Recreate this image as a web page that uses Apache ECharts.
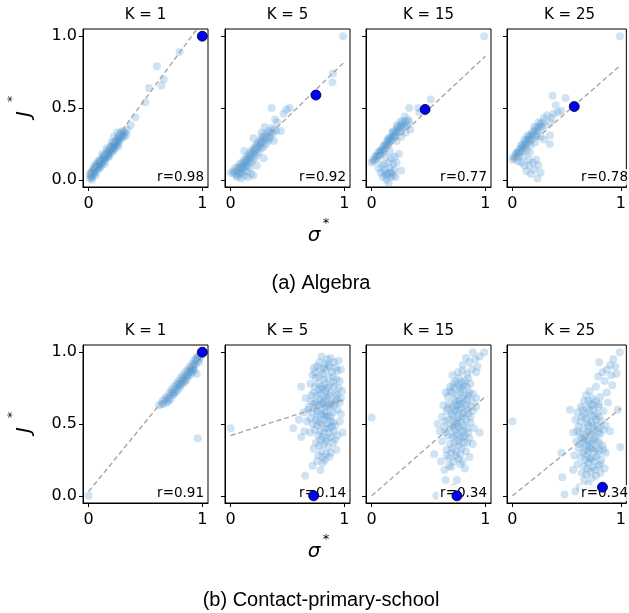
<!DOCTYPE html>
<html><head><meta charset="utf-8">
<script src="https://cdn.jsdelivr.net/npm/echarts@6/dist/echarts.min.js"></script>
<style>html,body{margin:0;padding:0;background:#fff}#c{width:629px;height:613px}</style>
</head><body><div id="c"></div>
<script>
// ---------- labels ----------
const panelTitles = ['K = 1', 'K = 5', 'K = 15', 'K = 25'];
const captions = ['(a) Algebra', '(b) Contact-primary-school'];
const xTicks = [0, 1];
const yTicks = [0, 0.5, 1];
const rAlgebra = [0.98, 0.92, 0.77, 0.78];
const rContact = [0.91, 0.14, 0.34, 0.34];

// ---------- highlighted point per panel ----------
const hlAlgebra = [[1.0, 1.0], [0.75, 0.59], [0.47, 0.49], [0.57, 0.51]];
const hlContact = [[1.0, 1.0], [0.73, 0.0], [0.75, 0.0], [0.83, 0.06]];

// ---------- fitted line values at x=0 and x=1 ----------
const fitAlgebraAt0 = [0.03, 0.05, 0.12, 0.14];
const fitAlgebraAt1 = [1.10, 0.82, 0.86, 0.80];
const fitContactAt0 = [0.03, 0.42, 0.0, 0.0];
const fitContactAt1 = [1.0, 0.67, 0.69, 0.61];

// ---------- scatter points (sigma*, J*) ----------
const algebraK1 = [[0.01,0.01],[0.02,0.03],[0.02,0.05],[0.03,0.02],[0.03,0.06],[0.04,0.04],[0.04,0.08],[0.05,0.05],[0.05,0.07],[0.06,0.09],[0.06,0.05],[0.07,0.08],[0.07,0.11],[0.08,0.07],[0.08,0.10],[0.09,0.12],[0.09,0.09],[0.10,0.11],[0.10,0.14],[0.11,0.10],[0.11,0.13],[0.12,0.15],[0.12,0.12],[0.13,0.14],[0.13,0.17],[0.14,0.13],[0.14,0.16],[0.15,0.18],[0.15,0.15],[0.16,0.17],[0.16,0.20],[0.17,0.16],[0.17,0.19],[0.18,0.21],[0.18,0.18],[0.19,0.20],[0.19,0.23],[0.20,0.19],[0.20,0.22],[0.21,0.24],[0.21,0.21],[0.22,0.23],[0.22,0.26],[0.23,0.22],[0.23,0.25],[0.24,0.27],[0.24,0.24],[0.25,0.26],[0.25,0.29],[0.26,0.25],[0.26,0.28],[0.27,0.31],[0.27,0.27],[0.28,0.30],[0.28,0.33],[0.29,0.29],[0.30,0.31],[0.30,0.34],[0.31,0.30],[0.32,0.33],[0.33,0.31],[0.34,0.35],[0.25,0.33],[0.22,0.30],[0.03,0.00],[0.06,0.03],[0.10,0.08],[0.14,0.11],[0.18,0.16],[0.22,0.20],[0.26,0.23],[0.05,0.10],[0.08,0.13],[0.12,0.18],[0.16,0.22],[0.20,0.26],[0.37,0.38],[0.41,0.435],[0.50,0.54],[0.53,0.64],[0.64,0.655],[0.66,0.70],[0.60,0.79],[0.80,0.89],[0.04,0.06],[0.07,0.09],[0.11,0.12],[0.15,0.16],[0.19,0.21],[0.23,0.24],[0.27,0.29],[0.29,0.32],[0.31,0.33],[0.13,0.15],[0.17,0.18],[0.21,0.22],[0.25,0.27],[0.09,0.10],[0.02,0.02],[0.01,0.04]];
const algebraK5 = [[0.00,0.05],[0.02,0.06],[0.03,0.04],[0.04,0.08],[0.05,0.06],[0.06,0.09],[0.07,0.07],[0.08,0.11],[0.08,0.05],[0.09,0.09],[0.10,0.12],[0.10,0.08],[0.11,0.10],[0.12,0.14],[0.12,0.11],[0.13,0.13],[0.14,0.16],[0.14,0.12],[0.15,0.15],[0.16,0.18],[0.16,0.14],[0.17,0.17],[0.18,0.20],[0.18,0.16],[0.19,0.19],[0.20,0.22],[0.20,0.18],[0.21,0.21],[0.22,0.24],[0.22,0.20],[0.23,0.23],[0.24,0.26],[0.24,0.22],[0.25,0.25],[0.26,0.28],[0.26,0.24],[0.27,0.27],[0.28,0.30],[0.28,0.26],[0.29,0.29],[0.30,0.32],[0.31,0.28],[0.32,0.31],[0.33,0.34],[0.34,0.30],[0.35,0.33],[0.36,0.36],[0.37,0.32],[0.38,0.35],[0.40,0.34],[0.38,0.27],[0.29,0.15],[0.23,0.10],[0.12,0.20],[0.20,0.29],[0.27,0.33],[0.30,0.37],[0.39,0.42],[0.41,0.40],[0.44,0.34],[0.465,0.46],[0.36,0.50],[0.49,0.49],[0.52,0.50],[0.06,0.02],[0.09,0.01],[0.12,0.03],[0.15,0.02],[0.18,0.04],[0.20,0.03],[0.14,0.06],[0.17,0.08],[0.10,0.05],[0.05,0.03],[0.90,0.74],[0.895,0.68],[0.99,1.0],[0.07,0.04],[0.11,0.07],[0.15,0.10],[0.19,0.13],[0.23,0.17],[0.27,0.22],[0.31,0.25],[0.35,0.29],[0.13,0.09],[0.17,0.12],[0.21,0.15],[0.25,0.19],[0.29,0.23],[0.33,0.27]];
const algebraK15 = [[0.00,0.12],[0.01,0.14],[0.02,0.13],[0.03,0.16],[0.04,0.14],[0.05,0.17],[0.05,0.15],[0.06,0.19],[0.07,0.17],[0.08,0.20],[0.08,0.18],[0.09,0.21],[0.10,0.19],[0.10,0.23],[0.11,0.21],[0.12,0.24],[0.12,0.22],[0.13,0.26],[0.14,0.24],[0.15,0.27],[0.15,0.25],[0.16,0.29],[0.17,0.27],[0.18,0.30],[0.18,0.28],[0.19,0.32],[0.20,0.30],[0.21,0.33],[0.21,0.31],[0.22,0.35],[0.23,0.33],[0.24,0.36],[0.25,0.34],[0.26,0.38],[0.27,0.36],[0.28,0.39],[0.29,0.37],[0.30,0.41],[0.31,0.38],[0.32,0.42],[0.33,0.40],[0.25,0.40],[0.22,0.38],[0.18,0.33],[0.14,0.28],[0.29,0.44],[0.33,0.50],[0.41,0.50],[0.42,0.47],[0.52,0.56],[0.34,0.35],[0.30,0.33],[0.26,0.30],[0.22,0.27],[0.16,0.20],[0.12,0.16],[0.06,0.08],[0.08,0.05],[0.10,0.02],[0.12,0.07],[0.13,0.00],[0.14,0.04],[0.15,-0.02],[0.16,0.08],[0.17,0.02],[0.18,0.05],[0.19,0.11],[0.20,0.07],[0.21,0.02],[0.22,0.12],[0.26,0.065],[0.11,0.11],[0.15,0.12],[0.17,0.15],[0.09,0.10],[0.24,0.18],[0.20,0.16],[0.99,1.0],[0.04,0.17],[0.07,0.20],[0.11,0.24],[0.15,0.29],[0.19,0.34],[0.23,0.37],[0.27,0.41],[0.13,0.03],[0.16,0.05],[0.19,0.03],[0.11,0.05]];
const algebraK25 = [[0.00,0.14],[0.01,0.16],[0.02,0.15],[0.03,0.18],[0.04,0.16],[0.05,0.19],[0.06,0.17],[0.06,0.21],[0.07,0.19],[0.08,0.22],[0.09,0.20],[0.09,0.24],[0.10,0.22],[0.11,0.25],[0.12,0.23],[0.12,0.27],[0.13,0.25],[0.14,0.28],[0.15,0.26],[0.15,0.30],[0.16,0.28],[0.17,0.31],[0.18,0.29],[0.18,0.33],[0.19,0.31],[0.20,0.34],[0.21,0.32],[0.22,0.36],[0.23,0.34],[0.24,0.37],[0.25,0.35],[0.26,0.39],[0.27,0.37],[0.28,0.40],[0.29,0.43],[0.30,0.38],[0.36,0.43],[0.37,0.585],[0.49,0.57],[0.40,0.52],[0.45,0.48],[0.345,0.31],[0.345,0.25],[0.29,0.28],[0.32,0.45],[0.42,0.47],[0.35,0.40],[0.38,0.46],[0.22,0.30],[0.17,0.24],[0.13,0.20],[0.05,0.13],[0.11,0.10],[0.155,0.10],[0.23,0.01],[0.24,0.10],[0.26,0.05],[0.13,0.06],[0.17,0.04],[0.20,0.07],[0.19,0.12],[0.22,0.14],[0.08,0.12],[0.15,0.14],[0.99,1.0],[0.04,0.19],[0.08,0.24],[0.11,0.28],[0.14,0.31],[0.20,0.37],[0.24,0.40],[0.10,0.16],[0.16,0.19],[0.21,0.26],[0.26,0.30]];

const contactK1 = [[0.62,0.63],[0.65,0.66],[0.66,0.64],[0.68,0.69],[0.70,0.68],[0.71,0.72],[0.72,0.70],[0.73,0.74],[0.74,0.72],[0.75,0.76],[0.76,0.74],[0.77,0.78],[0.78,0.76],[0.79,0.80],[0.80,0.78],[0.81,0.82],[0.82,0.80],[0.83,0.84],[0.84,0.82],[0.85,0.86],[0.86,0.84],[0.87,0.88],[0.88,0.86],[0.89,0.90],[0.90,0.88],[0.91,0.92],[0.92,0.90],[0.93,0.94],[0.94,0.92],[0.95,0.96],[0.96,0.94],[0.97,0.97],[0.98,0.96],[0.75,0.71],[0.80,0.75],[0.85,0.80],[0.90,0.85],[0.93,0.87],[0.70,0.66],[0.82,0.78],[0.87,0.84],[0.92,0.88],[0.78,0.73],[0.95,0.85],[0.96,0.40],[0.00,0.00],[0.72,0.67],[0.88,0.83],[0.97,0.93],[0.84,0.79],[0.76,0.72],[0.94,0.95],[0.91,0.86],[0.86,0.81],[0.81,0.77],[0.74,0.70],[0.69,0.65],[0.64,0.64],[0.67,0.67],[0.83,0.81],[0.89,0.87],[0.93,0.91],[0.79,0.77],[0.96,0.97],[0.91,0.89]];
const contactK5 = [[0.80,0.97],[0.85,0.95],[0.88,0.96],[0.91,0.93],[0.95,0.94],[0.83,0.92],[0.87,0.90],[0.92,0.89],[0.76,0.90],[0.73,0.89],[0.79,0.88],[0.84,0.87],[0.89,0.86],[0.94,0.87],[0.81,0.85],[0.97,0.88],[0.72,0.84],[0.75,0.82],[0.78,0.83],[0.82,0.81],[0.86,0.82],[0.90,0.83],[0.93,0.81],[0.96,0.80],[0.62,0.76],[0.70,0.78],[0.74,0.76],[0.77,0.78],[0.80,0.76],[0.83,0.78],[0.87,0.77],[0.91,0.76],[0.95,0.75],[0.73,0.72],[0.79,0.71],[0.84,0.73],[0.88,0.72],[0.92,0.71],[0.98,0.73],[0.76,0.70],[0.81,0.74],[0.86,0.70],[0.66,0.68],[0.71,0.66],[0.75,0.65],[0.78,0.67],[0.82,0.66],[0.85,0.68],[0.89,0.66],[0.93,0.67],[0.96,0.65],[0.69,0.62],[0.74,0.61],[0.77,0.63],[0.80,0.60],[0.84,0.62],[0.87,0.61],[0.91,0.63],[0.94,0.60],[0.72,0.58],[0.79,0.57],[0.83,0.58],[0.86,0.56],[0.90,0.58],[0.97,0.57],[0.64,0.58],[0.76,0.55],[0.81,0.64],[0.88,0.64],[0.55,0.47],[0.62,0.41],[0.67,0.52],[0.72,0.50],[0.75,0.53],[0.78,0.51],[0.82,0.53],[0.85,0.50],[0.88,0.52],[0.92,0.49],[0.96,0.52],[0.74,0.46],[0.79,0.45],[0.83,0.47],[0.87,0.44],[0.91,0.45],[0.985,0.44],[0.70,0.44],[0.77,0.42],[0.81,0.41],[0.85,0.40],[0.94,0.42],[0.89,0.48],[0.75,0.37],[0.78,0.35],[0.82,0.36],[0.86,0.34],[0.90,0.37],[0.80,0.31],[0.84,0.29],[0.88,0.30],[0.77,0.28],[0.83,0.25],[0.93,0.32],[0.73,0.33],[0.72,0.21],[0.79,0.18],[0.655,0.14],[0.81,0.23],[0.76,0.24],[0.0,0.47],[0.78,0.93],[0.86,0.91],[0.82,0.89],[0.74,0.86],[0.90,0.79],[0.85,0.75],[0.78,0.74],[0.71,0.70],[0.83,0.69],[0.94,0.70],[0.80,0.65],[0.86,0.63],[0.73,0.64],[0.92,0.65],[0.76,0.59],[0.82,0.56],[0.88,0.55],[0.84,0.55],[0.70,0.54],[0.80,0.50],[0.86,0.47],[0.90,0.51],[0.76,0.49],[0.82,0.44],[0.88,0.41],[0.79,0.39],[0.84,0.38],[0.92,0.39],[0.87,0.27],[0.81,0.27],[0.68,0.60],[0.97,0.68],[0.60,0.53],[0.65,0.45]];
const contactK15 = [[0.99,1.0],[0.89,1.0],[0.83,0.96],[0.93,0.90],[0.86,0.93],[0.95,0.97],[0.91,0.95],[0.88,0.88],[0.71,0.84],[0.80,0.87],[0.84,0.85],[0.77,0.82],[0.92,0.86],[0.74,0.80],[0.79,0.79],[0.82,0.80],[0.69,0.76],[0.73,0.75],[0.76,0.77],[0.80,0.74],[0.84,0.76],[0.87,0.78],[0.71,0.72],[0.75,0.70],[0.78,0.72],[0.82,0.70],[0.86,0.72],[0.89,0.71],[0.67,0.69],[0.73,0.67],[0.77,0.66],[0.80,0.68],[0.84,0.67],[0.92,0.68],[0.65,0.72],[0.63,0.63],[0.68,0.64],[0.71,0.62],[0.75,0.63],[0.79,0.61],[0.83,0.63],[0.87,0.62],[0.92,0.62],[0.66,0.59],[0.70,0.57],[0.74,0.59],[0.77,0.56],[0.81,0.58],[0.85,0.57],[0.89,0.59],[0.58,0.50],[0.62,0.55],[0.68,0.53],[0.72,0.52],[0.76,0.54],[0.79,0.51],[0.83,0.53],[0.87,0.51],[0.73,0.60],[0.78,0.64],[0.64,0.48],[0.69,0.47],[0.73,0.46],[0.76,0.48],[0.80,0.45],[0.84,0.47],[0.95,0.44],[0.67,0.42],[0.71,0.41],[0.75,0.43],[0.78,0.40],[0.82,0.42],[0.86,0.40],[0.62,0.38],[0.69,0.36],[0.73,0.37],[0.77,0.35],[0.81,0.37],[0.89,0.36],[0.74,0.50],[0.55,0.29],[0.66,0.32],[0.70,0.30],[0.74,0.31],[0.78,0.29],[0.83,0.31],[0.68,0.26],[0.72,0.24],[0.76,0.26],[0.80,0.24],[0.64,0.18],[0.70,0.20],[0.82,0.19],[0.86,0.27],[0.65,0.11],[0.75,0.11],[0.57,0.0],[0.72,0.06],[0.79,0.03],[0.0,0.545],[0.80,0.91],[0.76,0.86],[0.85,0.82],[0.72,0.78],[0.81,0.77],[0.78,0.75],[0.69,0.73],[0.85,0.70],[0.74,0.65],[0.81,0.65],[0.88,0.66],[0.67,0.61],[0.77,0.60],[0.84,0.60],[0.71,0.56],[0.80,0.55],[0.87,0.55],[0.65,0.52],[0.75,0.51],[0.81,0.49],[0.71,0.48],[0.78,0.46],[0.85,0.44],[0.65,0.44],[0.73,0.42],[0.80,0.41],[0.76,0.38],[0.84,0.37],[0.71,0.33],[0.79,0.33],[0.74,0.28],[0.66,0.28],[0.78,0.22],[0.68,0.21],[0.61,0.24],[0.90,0.47],[0.60,0.45]];
const contactK25 = [[0.99,1.0],[0.93,0.95],[0.80,0.93],[0.87,0.88],[0.90,0.91],[0.79,0.83],[0.85,0.80],[0.77,0.76],[0.92,0.77],[0.71,0.73],[0.96,0.85],[0.83,0.86],[0.68,0.70],[0.74,0.68],[0.66,0.66],[0.72,0.64],[0.77,0.66],[0.81,0.69],[0.63,0.62],[0.69,0.61],[0.75,0.60],[0.79,0.62],[0.53,0.60],[0.60,0.58],[0.66,0.57],[0.72,0.56],[0.78,0.57],[0.84,0.59],[0.97,0.60],[0.88,0.65],[0.58,0.53],[0.63,0.52],[0.68,0.54],[0.73,0.51],[0.77,0.53],[0.82,0.52],[0.61,0.48],[0.66,0.47],[0.70,0.49],[0.75,0.46],[0.80,0.47],[0.86,0.49],[0.56,0.44],[0.62,0.43],[0.67,0.42],[0.71,0.44],[0.76,0.41],[0.81,0.43],[0.90,0.45],[0.64,0.40],[0.45,0.30],[0.59,0.38],[0.65,0.37],[0.69,0.39],[0.73,0.36],[0.78,0.38],[0.83,0.35],[0.995,0.34],[0.61,0.33],[0.67,0.32],[0.71,0.34],[0.75,0.31],[0.80,0.32],[0.86,0.30],[0.57,0.28],[0.63,0.27],[0.69,0.28],[0.73,0.26],[0.77,0.27],[0.82,0.25],[0.60,0.22],[0.66,0.21],[0.70,0.23],[0.74,0.20],[0.79,0.21],[0.85,0.19],[0.64,0.16],[0.68,0.15],[0.72,0.17],[0.77,0.14],[0.81,0.16],[0.46,0.13],[0.56,0.18],[0.48,0.01],[0.70,0.08],[0.62,0.06],[0.75,0.05],[0.58,0.03],[0.0,0.52],[0.74,0.63],[0.70,0.66],[0.80,0.64],[0.65,0.60],[0.71,0.59],[0.75,0.55],[0.80,0.55],[0.64,0.55],[0.69,0.51],[0.74,0.49],[0.78,0.49],[0.84,0.46],[0.60,0.45],[0.69,0.45],[0.73,0.43],[0.79,0.44],[0.66,0.40],[0.71,0.38],[0.75,0.39],[0.80,0.37],[0.62,0.36],[0.68,0.35],[0.73,0.33],[0.77,0.33],[0.84,0.32],[0.65,0.30],[0.70,0.31],[0.79,0.29],[0.67,0.25],[0.71,0.26],[0.75,0.24],[0.81,0.22],[0.69,0.19],[0.76,0.18],[0.73,0.12],[0.66,0.11],[0.87,0.72],[0.91,0.84],[0.95,0.90]];

// ---------- assemble ----------
const rows = [
  {pts: [algebraK1, algebraK5, algebraK15, algebraK25], hl: hlAlgebra, f0: fitAlgebraAt0, f1: fitAlgebraAt1, r: rAlgebra},
  {pts: [contactK1, contactK5, contactK15, contactK25], hl: hlContact, f0: fitContactAt0, f1: fitContactAt1, r: rContact}
];
const PANEL_LEFT = [83, 225, 366, 507];
const PANEL_W = 125, PANEL_H = 158;
const ROW_TOP = [29, 345];
const FONT = "'DejaVu Sans', sans-serif";

const grid = [], xAxis = [], yAxis = [], series = [], graphic = [];
rows.forEach((row, ri) => {
  const top = ROW_TOP[ri];
  row.pts.forEach((pts, ci) => {
    const idx = ri * 4 + ci;
    const left = PANEL_LEFT[ci];
    grid.push({left: left, top: top, width: PANEL_W, height: PANEL_H, show: true,
      borderColor: '#000', borderWidth: 1, backgroundColor: 'transparent', containLabel: false});
    xAxis.push({gridIndex: idx, type: 'value', min: -0.05, max: 1.05,
      splitLine: {show: false},
      axisLine: {show: true, onZero: false, lineStyle: {color: '#000', width: 1}},
      axisTick: {show: true, customValues: xTicks, length: 4, lineStyle: {color: '#000', width: 1}},
      axisLabel: {show: true, customValues: xTicks, margin: 9, fontSize: 16, color: '#000', fontFamily: FONT}});
    yAxis.push({gridIndex: idx, type: 'value', min: -0.05, max: 1.05,
      splitLine: {show: false},
      axisLine: {show: true, onZero: false, lineStyle: {color: '#000', width: 1}},
      axisTick: {show: true, customValues: yTicks, length: 4, lineStyle: {color: '#000', width: 1}},
      axisLabel: {show: ci === 0, customValues: yTicks, margin: 6, fontSize: 16, color: '#000', fontFamily: FONT,
        formatter: v => Number(v).toFixed(1)}});
    series.push({type: 'scatter', xAxisIndex: idx, yAxisIndex: idx, data: pts, symbolSize: 8,
      itemStyle: {color: 'rgb(80,150,210)', opacity: 0.27}, z: 2, silent: true});
    series.push({type: 'line', xAxisIndex: idx, yAxisIndex: idx, data: [[0, row.f0[ci]], [1, row.f1[ci]]],
      symbol: 'none', clip: true, lineStyle: {color: '#a6a6a6', width: 1.4, type: [5, 3]}, z: 3, silent: true});
    series.push({type: 'scatter', xAxisIndex: idx, yAxisIndex: idx, data: [row.hl[ci]], symbolSize: 10,
      itemStyle: {color: '#0000ff', borderColor: '#000', borderWidth: 0.8, opacity: 1}, z: 6, silent: true});
    // panel title
    graphic.push({type: 'text', x: left + PANEL_W / 2, y: top - 14, z: 10,
      style: {text: panelTitles[ci], font: '15px ' + FONT, fill: '#000', align: 'center', verticalAlign: 'middle'}});
    // r label
    graphic.push({type: 'text', x: left + PANEL_W - 3, y: top + PANEL_H - 2, z: 4, zlevel: 0,
      style: {text: 'r=' + row.r[ci].toFixed(2), font: '13.5px ' + FONT, fill: '#000', align: 'right', verticalAlign: 'bottom',
        backgroundColor: 'rgba(255,255,255,0.8)', padding: [1, 1, 1, 2]}});
  });
  const dy = ri === 0 ? 0 : 316;
  // y axis name J*
  graphic.push({type: 'text', x: 25, y: 114 + dy, rotation: Math.PI / 2, z: 10,
    style: {text: 'J', font: 'italic 20px ' + FONT, fill: '#000', align: 'center', verticalAlign: 'middle'}});
  graphic.push({type: 'text', x: 13, y: 99 + dy, rotation: Math.PI / 2, z: 10,
    style: {text: '*', font: '13px ' + FONT, fill: '#000', align: 'center', verticalAlign: 'middle'}});
  // x axis name sigma*
  graphic.push({type: 'text', x: 314, y: 236 + dy, z: 10,
    style: {text: 'σ', font: 'italic 20px ' + FONT, fill: '#000', align: 'center', verticalAlign: 'middle'}});
  graphic.push({type: 'text', x: 326, y: 224 + dy, z: 10,
    style: {text: '*', font: '13px ' + FONT, fill: '#000', align: 'center', verticalAlign: 'middle'}});
  // caption
  graphic.push({type: 'text', x: 321, y: (ri === 0 ? 283 : 600), z: 10,
    style: {text: captions[ri], font: "20px 'Liberation Sans', Arial, sans-serif", fill: '#000', align: 'center', verticalAlign: 'middle'}});
});

const chart = echarts.init(document.getElementById('c'), null, {renderer: 'canvas'});
chart.setOption({animation: false, backgroundColor: '#fff', grid, xAxis, yAxis, series, graphic});
</script></body></html>
